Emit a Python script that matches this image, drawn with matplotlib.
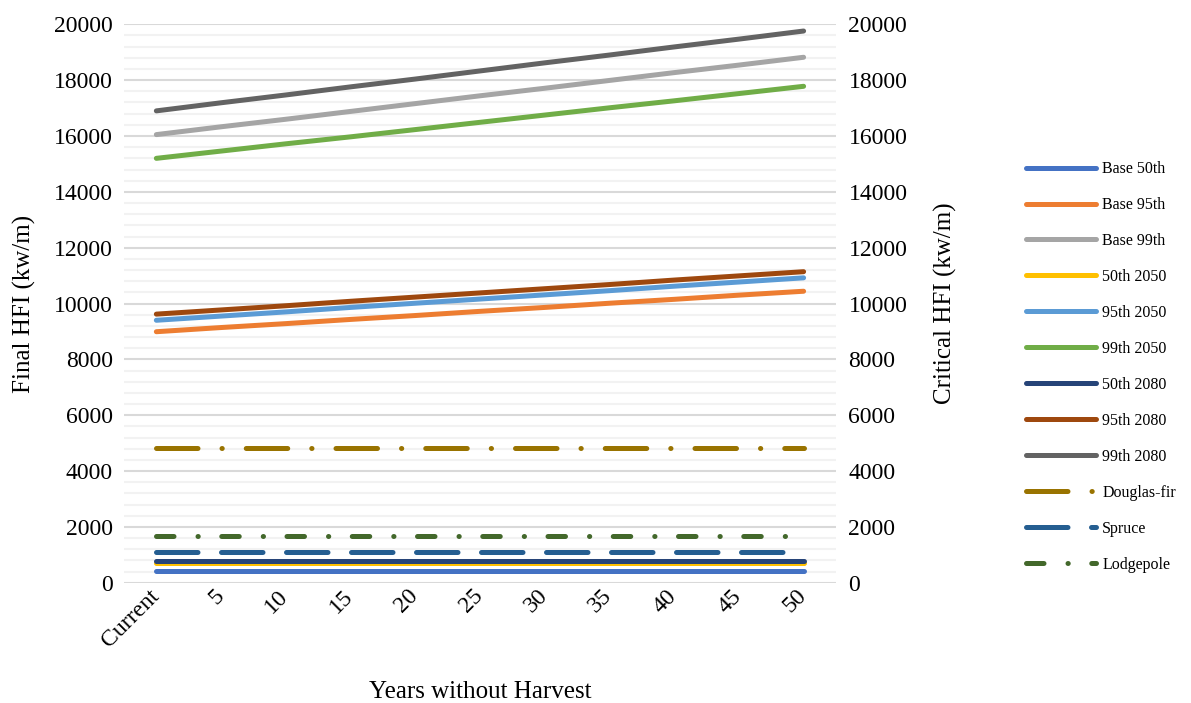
import matplotlib
matplotlib.use('Agg')
import matplotlib.pyplot as plt
import matplotlib.transforms as mtransforms
from matplotlib.ticker import MultipleLocator

plt.rcParams['font.family'] = ['Liberation Serif', 'DejaVu Serif']

years = ['Current', '5', '10', '15', '20', '25', '30', '35', '40', '45', '50']

base_50 = [430] * 11
base_95 = [8990, 9140, 9280, 9430, 9570, 9720, 9860, 10010, 10150, 10300, 10440]
base_99 = [16050, 16330, 16600, 16880, 17160, 17440, 17710, 17990, 18270, 18540, 18820]
p50_2050 = [720] * 11
p95_2050 = [9400, 9550, 9700, 9860, 10010, 10160, 10310, 10460, 10620, 10770, 10920]
p99_2050 = [15200, 15460, 15720, 15970, 16230, 16490, 16750, 17010, 17260, 17520, 17780]
p50_2080 = [790] * 11
p95_2080 = [9620, 9770, 9920, 10080, 10230, 10380, 10530, 10680, 10840, 10990, 11140]
p99_2080 = [16900, 17190, 17470, 17760, 18040, 18330, 18620, 18900, 19190, 19470, 19760]

# critical HFI thresholds by fuel type
douglas_fir = [4820] * 11
spruce = [1110] * 11
lodgepole = [1680] * 11

series = [
    ('Base 50th', base_50, '#4472C4', None),
    ('Base 95th', base_95, '#ED7D31', None),
    ('Base 99th', base_99, '#A5A5A5', None),
    ('50th 2050', p50_2050, '#FFC000', None),
    ('95th 2050', p95_2050, '#5B9BD5', None),
    ('99th 2050', p99_2050, '#70AD47', None),
    ('50th 2080', p50_2080, '#264478', None),
    ('95th 2080', p95_2080, '#9E480E', None),
    ('99th 2080', p99_2080, '#636363', None),
    ('Douglas-fir', douglas_fir, '#997300', (8.3, 4.8, 0.05, 4.8)),
    ('Spruce', spruce, '#255E91', (8.3, 4.7)),
    ('Lodgepole', lodgepole, '#43682B', (3.5, 4.8, 0.05, 4.7)),
]

fig = plt.figure(figsize=(11.91, 7.03), dpi=100)
ax = fig.add_axes([0.1041, 0.1711, 0.5978, 0.7943])

x = list(range(len(years)))
for label, vals, color, dashes in series:
    kw = dict(color=color, linewidth=3.6, solid_capstyle='round', dash_capstyle='round', label=label)
    if dashes is not None:
        kw['dashes'] = dashes
    ax.plot(x, vals, **kw)

ax.set_xlim(-0.5, len(years) - 0.5)
ax.set_ylim(0, 20000)
ax.yaxis.set_major_locator(MultipleLocator(2000))
ax.yaxis.set_minor_locator(MultipleLocator(400))
ax.grid(which='major', axis='y', color='#D9D9D9', linewidth=1.5, zorder=0)
ax.grid(which='minor', axis='y', color='#F2F2F2', linewidth=1.5, zorder=0)
ax.set_axisbelow(True)
for s in ax.spines.values():
    s.set_visible(False)
ax.tick_params(axis='both', which='both', length=0, labelsize=17)
ax.tick_params(axis='y', pad=8)
ax.set_xticks(x)
ax.set_xticklabels(years, rotation=45, ha='right', va='top', rotation_mode='anchor')
ax.tick_params(axis='x', pad=2)
# nudge rotated labels left so they sit under their categories
shift = mtransforms.ScaledTranslation(-0.08, 0, fig.dpi_scale_trans)
for lbl in ax.get_xticklabels():
    lbl.set_transform(lbl.get_transform() + shift)
ax.set_xlabel('Years without Harvest', fontsize=18, labelpad=21)
ax.set_ylabel('Final HFI (kw/m)', fontsize=18, labelpad=13)

ax2 = ax.twinx()
ax2.set_ylim(0, 20000)
ax2.yaxis.set_major_locator(MultipleLocator(2000))
for s in ax2.spines.values():
    s.set_visible(False)
ax2.tick_params(axis='y', length=0, labelsize=17, pad=9)
ax2.set_ylabel('Critical HFI (kw/m)', fontsize=18, labelpad=19)

handles, labels = ax.get_legend_handles_labels()
fig.legend(handles, labels, loc='center left', bbox_to_anchor=(0.849, 0.478),
           frameon=False, fontsize=11.5, handlelength=4.4, handletextpad=0.4,
           labelspacing=1.25)

fig.savefig('out.png', dpi=100)
